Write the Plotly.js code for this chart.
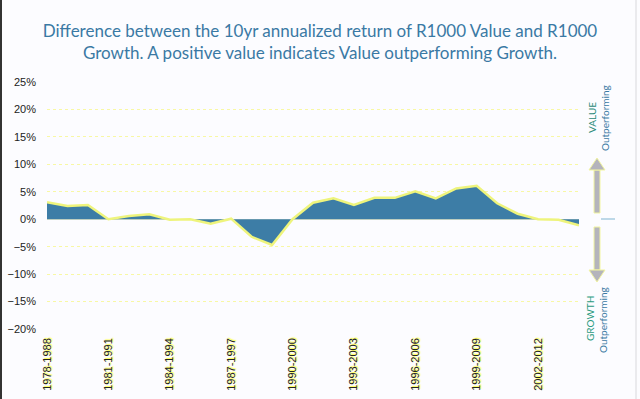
<!DOCTYPE html>
<html><head><meta charset="utf-8">
<script src="https://cdn.plot.ly/plotly-3.0.1.min.js"></script>
<style>html,body{margin:0;padding:0;background:#fcfcff;}</style>
</head><body>
<div id="chart" style="width:640px;height:399px;"></div>
<script>
const categories = ["1978-1988","1979-1989","1980-1990","1981-1991","1982-1992","1983-1993","1984-1994","1985-1995","1986-1996","1987-1997","1988-1998","1989-1999","1990-2000","1991-2001","1992-2002","1993-2003","1994-2004","1995-2005","1996-2006","1997-2007","1998-2008","1999-2009","2000-2010","2001-2011","2002-2012","2003-2013","2004-2014"];
const diffValues = [3.1,2.4,2.6,0.0,0.6,0.9,-0.1,0.0,-0.8,0.1,-3.2,-4.7,0.0,3.0,3.8,2.6,3.9,3.9,5.1,3.8,5.6,6.1,2.9,1.0,0.0,-0.1,-1.1];
const tickLabels = ["1978-1988","1981-1991","1984-1994","1987-1997","1990-2000","1993-2003","1996-2006","1999-2009","2002-2012"];

const L = 47, R = 579, T = 82, B = 329;
const px = x => (x - L) / (R - L);
const py = y => (B - y) / (B - T);

const trace = {
  x: categories, y: diffValues, type: 'scatter', mode: 'lines',
  fill: 'tozeroy', fillcolor: '#3d7da6',
  line: {color: '#eef47c', width: 2.5}, hoverinfo: 'skip'
};

const noteFont = (c) => ({family:'Lato, Open Sans, sans-serif', size:10, color:c});
const annotations = [
  {xref:'paper', yref:'paper', x:px(592), y:py(118), xanchor:'center', yanchor:'middle', text:'VALUE', textangle:-90, showarrow:false, font:noteFont('#2a8a78')},
  {xref:'paper', yref:'paper', x:px(605), y:py(118), xanchor:'center', yanchor:'middle', text:'Outperforming', textangle:-90, showarrow:false, font:noteFont('#3b7aa3')},
  {xref:'paper', yref:'paper', x:px(590), y:py(319), xanchor:'center', yanchor:'middle', text:'GROWTH', textangle:-90, showarrow:false, font:noteFont('#2a9a80')},
  {xref:'paper', yref:'paper', x:px(603), y:py(320), xanchor:'center', yanchor:'middle', text:'Outperforming', textangle:-90, showarrow:false, font:noteFont('#3b7aa3')}
];

const arrowFill = '#b4b4bc', arrowEdge = '#f2f5a0';
const shapes = [
  {type:'rect', xref:'paper', yref:'paper', x0:px(594), x1:px(600), y0:py(213), y1:py(170),
   fillcolor:arrowFill, line:{color:arrowEdge, width:1}},
  {type:'path', xref:'paper', yref:'paper',
   path:`M ${px(589)} ${py(170)} L ${px(605)} ${py(170)} L ${px(597)} ${py(158)} Z`,
   fillcolor:arrowFill, line:{color:arrowEdge, width:1}},
  {type:'rect', xref:'paper', yref:'paper', x0:px(594), x1:px(600), y0:py(227), y1:py(270),
   fillcolor:arrowFill, line:{color:arrowEdge, width:1}},
  {type:'path', xref:'paper', yref:'paper',
   path:`M ${px(589)} ${py(270)} L ${px(605)} ${py(270)} L ${px(597)} ${py(282)} Z`,
   fillcolor:arrowFill, line:{color:arrowEdge, width:1}},
  {type:'line', xref:'paper', yref:'paper', x0:px(601), x1:px(615), y0:py(219), y1:py(219),
   line:{color:'#a8cce0', width:1.5}},
  {type:'line', xref:'paper', yref:'paper', x0:px(1), x1:px(1), y0:py(0), y1:py(399),
   line:{color:'#333333', width:2}},
  {type:'line', xref:'paper', yref:'paper', x0:px(636), x1:px(636), y0:py(0), y1:py(399),
   line:{color:'#d8d8dc', width:1}}
];

const layout = {
  width: 640, height: 399,
  margin: {l: L, r: 640 - R, t: T, b: 399 - B},
  paper_bgcolor: '#fcfcff', plot_bgcolor: '#fcfcff',
  showlegend: false,
  title: {
    text: 'Difference between the 10yr annualized return of R1000 Value and R1000<br>Growth. A positive value indicates Value outperforming Growth.',
    font: {family: 'Lato, Open Sans, sans-serif', size: 17, color: '#3a79a4'},
    x: 0.5, xanchor: 'center', xref: 'container',
    y: 0.907, yanchor: 'top', yref: 'container'
  },
  xaxis: {
    type: 'category', range: [0, categories.length - 1],
    tickmode: 'array', tickvals: tickLabels, ticktext: tickLabels,
    tickangle: -90, showgrid: false, zeroline: false, showline: false,
    ticks: '', ticklen: 0, ticklabelstandoff: 6,
    tickfont: {family: 'Liberation Sans, Arial, sans-serif', size: 11, color: '#222222', shadow: '1px 1px 1px #ffff40'}
  },
  yaxis: {
    range: [-20, 25], dtick: 5, ticksuffix: '%',
    showgrid: true, gridcolor: '#f8f8a4', griddash: 'dot', gridwidth: 1,
    zeroline: true, zerolinecolor: '#e8eac8', zerolinewidth: 1,
    showline: false, ticks: '', ticklabelstandoff: 10,
    tickfont: {family: 'Liberation Sans, Arial, sans-serif', size: 11, color: '#222222'}
  },
  annotations: annotations,
  shapes: shapes
};

Plotly.newPlot('chart', [trace], layout, {displayModeBar: false, staticPlot: true});
</script>
</body></html>
